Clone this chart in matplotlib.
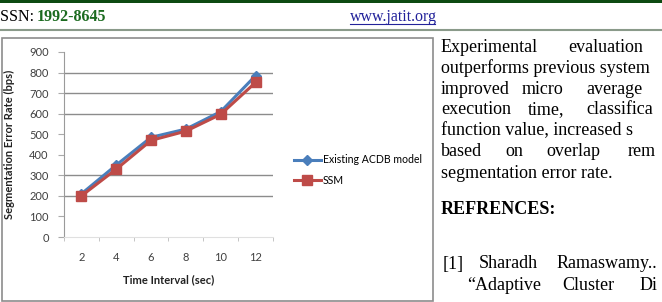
import matplotlib.pyplot as plt
from matplotlib.lines import Line2D
from matplotlib.patches import Rectangle

# chart data
intervals = ['2', '4', '6', '8', '10', '12']
existing_acdb = [210, 350, 485, 525, 610, 785]
ssm = [200, 330, 470, 515, 597, 752]
y_ticks = [0, 100, 200, 300, 400, 500, 600, 700, 800, 900]
grid_levels = [200, 300, 600, 700, 800]

W, H = 662, 302
fig = plt.figure(figsize=(W / 100, H / 100), dpi=100)
fig.patch.set_facecolor('white')


def fx(px):
    return px / W


def fy(py):
    return 1 - py / H


# page header
fig.add_artist(Rectangle((0, fy(3)), 1, 3 / H, transform=fig.transFigure,
                         color='#0d4a12', lw=0))
fig.add_artist(Line2D([0, 1], [fy(30), fy(30)], color='#8a9a8a', lw=1.5))
serif = 'Liberation Serif'
fig.text(fx(0), fy(17), 'SSN: ', family=serif, fontsize=11.5, va='center')
fig.text(fx(37), fy(17), '1992-8645', family=serif, fontsize=11.5,
         va='center', weight='bold', color='#1b6b1f')
fig.text(fx(350), fy(17), 'www.jatit.org', family=serif, fontsize=11.5,
         va='center', color='#22229a')
fig.add_artist(Line2D([fx(350), fx(435)], [fy(24), fy(24)], color='#22229a', lw=0.8))

# frame around the chart
fig.add_artist(Rectangle((fx(2), fy(301)), fx(431), (301 - 38) / H,
                         transform=fig.transFigure, fill=False,
                         ec='#8c8c8c', lw=1.2))

# chart
ax = fig.add_axes([fx(64), fy(237), fx(273 - 64), (237 - 52) / H])
x = range(len(intervals))
blue = '#4a7ebb'
red = '#be4b48'
for lvl in grid_levels:
    ax.axhline(lvl, color='#8c8c8c', lw=1, zorder=0)
ax.plot(x, existing_acdb, color=blue, lw=2.2, marker='D', ms=5,
        label='Existing ACDB model', zorder=3)
ax.plot(x, ssm, color=red, lw=2.2, marker='s', ms=7.5,
        label='SSM', zorder=4)
ax.set_xlim(-0.5, len(intervals) - 0.5)
ax.set_ylim(0, 900)
ax.set_yticks(y_ticks)
ax.set_xticks(list(x))
ax.set_xticklabels(intervals)
ax.set_xticks([i - 0.5 for i in range(len(intervals) + 1)], minor=True)

cal = 'Lato'
for lab in ax.get_xticklabels() + ax.get_yticklabels():
    lab.set_family(cal)
    lab.set_fontsize(8)
    lab.set_color('#404040')
ax.tick_params(axis='x', which='major', length=0, pad=11)
ax.tick_params(axis='x', which='minor', length=3, color='#bbbbbb')
ax.tick_params(axis='y', length=4, color='#aaaaaa', pad=7)
for s in ['top', 'right']:
    ax.spines[s].set_visible(False)
ax.spines['left'].set_color('#9a9a9a')
ax.spines['bottom'].set_color('#e0e0e0')
ax.set_xlabel('Time Interval (sec)', family=cal, fontsize=8, weight='bold',
              color='#222222', labelpad=8)
ax.set_ylabel('Segmentation Error Rate (bps)', family=cal, fontsize=8,
              weight='bold', color='#222222', labelpad=10)

fig.legend(loc='center left', bbox_to_anchor=(fx(284), fy(170)), frameon=False,
           prop={'family': cal, 'size': 7.6}, handlelength=2.6,
           handletextpad=0.2, labelspacing=0.9)

# body text to the right of the chart (justified column, cut at the page edge)
fs = 13
body = [
    (47, [(441, 'Experimental'), (568, 'evaluation')]),
    (68, [(441, 'outperforms previous system')]),
    (89, [(441, 'improved'), (522, 'micro'), (586, 'average')]),
    (110, [(441, 'execution'), (528, 'time,'), (586, 'classifica')]),
    (131, [(441, 'function value, increased s')]),
    (152, [(441, 'based'), (505, 'on'), (546, 'overlap'), (628, 'rem')]),
    (174, [(441, 'segmentation error rate.')]),
]
for yy, words in body:
    for xx, w in words:
        fig.text(fx(xx), fy(yy), w, family=serif, fontsize=fs, va='center')
fig.text(fx(441), fy(210), 'REFRENCES:', family=serif, fontsize=fs,
         va='center', weight='bold')
for xx, w in [(443, '[1]'), (479, 'Sharadh'), (557, 'Ramaswamy..')]:
    fig.text(fx(xx), fy(264), w, family=serif, fontsize=fs, va='center')
for xx, w in [(467, '\u201cAdaptive'), (562, 'Cluster'), (640, 'Di')]:
    fig.text(fx(xx), fy(286), w, family=serif, fontsize=fs, va='center')

fig.savefig('out.png', dpi=100)
